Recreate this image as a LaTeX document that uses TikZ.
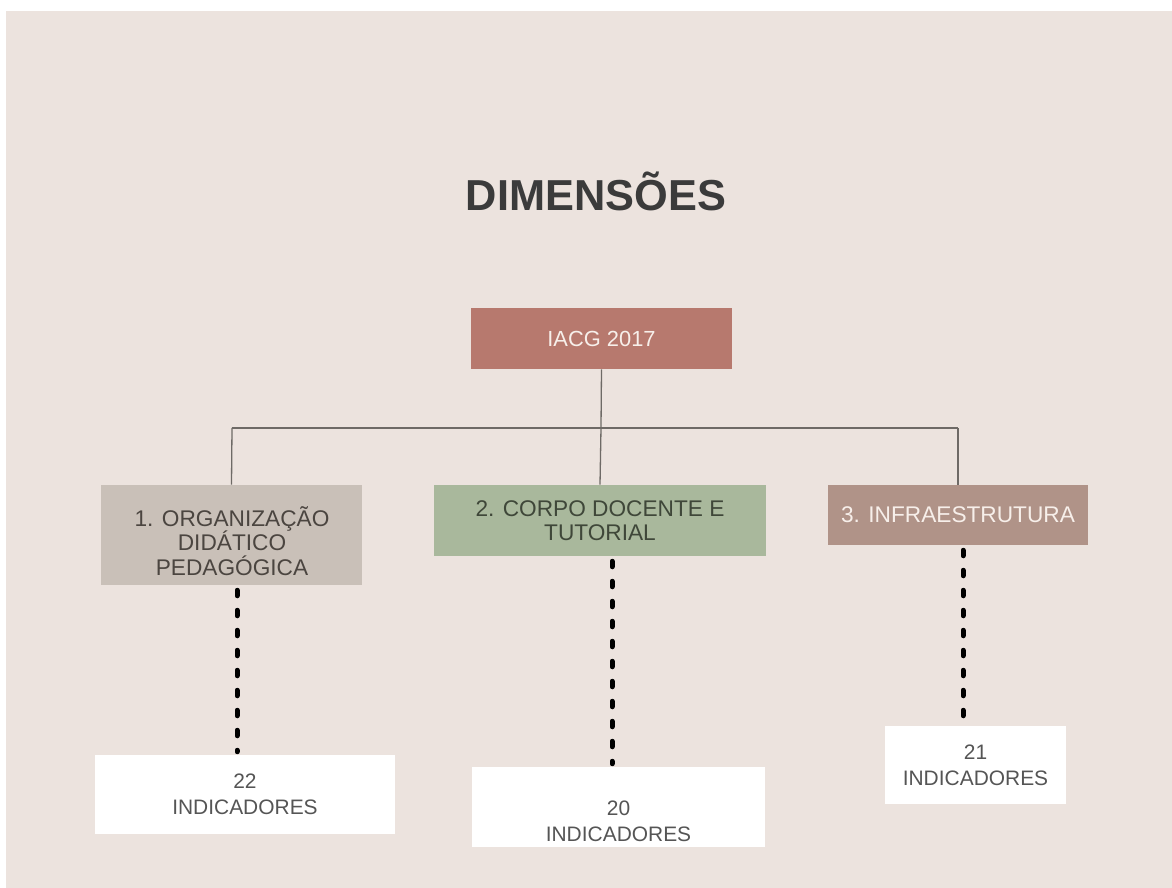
\documentclass[tikz,border=0pt]{standalone}
\usepackage{fontspec}
\setmainfont{Liberation Sans}
\newdimen\px \px=0.75pt
\definecolor{bgc}{HTML}{ECE3DE}
\definecolor{titlec}{HTML}{3B3B3B}
\definecolor{iacgc}{HTML}{B7796E}
\definecolor{onec}{HTML}{C9C0B8}
\definecolor{twoc}{HTML}{A9B89C}
\definecolor{threec}{HTML}{B09388}
\definecolor{linec}{HTML}{6E6A66}
\definecolor{txtone}{HTML}{4B4540}
\definecolor{txttwo}{HTML}{3F4739}
\definecolor{txtind}{HTML}{555555}
\definecolor{txtlight}{HTML}{F7EFEA}
\tikzset{
  boxbase/.style={rectangle, inner sep=0pt, align=center, draw=none},
  dimbox/.style={boxbase, font=\fontsize{17}{18.4}\selectfont},
  indbox/.style={boxbase, fill=white, text=txtind, font=\fontsize{15.7}{19.5}\selectfont},
  indtext/.style={boxbase, text=txtind, font=\fontsize{15.7}{19.5}\selectfont},
  tree/.style={draw=linec, line width=1.3\px},
  dots/.style={draw=black, line width=5\px, line cap=round, dash pattern=on 5.5\px off 14.5\px}
}
\begin{document}
\begin{tikzpicture}[x=0.75pt,y=-0.75pt]
\useasboundingbox (0,0) rectangle (1172,888);
\fill[white] (0,0) rectangle (1172,888);
\fill[bgc] (6,11) rectangle (1172,888);

\node[font=\bfseries\fontsize{32.5}{39}\selectfont, text=titlec] (title) at (596,191) {DIMENSÕES};

\node[boxbase, fill=iacgc, text=txtlight, minimum width=261\px, minimum height=61\px,
      font=\fontsize{16.4}{19}\selectfont] (iacg) at (601.5,338.5) {IACG 2017};

\node[dimbox, fill=onec, minimum width=261\px, minimum height=100\px] (b1) at (231.5,535) {};
\node[dimbox, text=txtone] (b1t) at (232,541) {1. ORGANIZAÇÃO\\DIDÁTICO\\PEDAGÓGICA};
\node[dimbox, fill=twoc, text=txttwo, minimum width=332\px, minimum height=71\px] (b2) at (600,520.5)
  {2. CORPO DOCENTE E\\TUTORIAL};
\node[dimbox, fill=threec, text=txtlight, minimum width=260\px, minimum height=60\px] (b3) at (958,515)
  {3. INFRAESTRUTURA};

\node[indbox, minimum width=300\px, minimum height=79\px] (w1) at (245,794.5) {22\\INDICADORES};
\node[indbox, minimum width=293\px, minimum height=80\px] (w2) at (618.5,807) {};
\node[indtext] (w2t) at (618.5,821) {20\\INDICADORES};
\node[indbox, minimum width=181\px, minimum height=78\px] (w3) at (975.5,765) {21\\INDICADORES};

\coordinate (h1) at (232,428);
\coordinate (hm) at (601,428);
\coordinate (h3) at (958,428);
\draw[tree] (iacg.south) -- (hm);
\draw[tree] (h1) -- (h3);
\draw[tree] (h1) -- (b1.north);
\draw[tree] (hm) -- (b2.north);
\draw[tree] (h3) -- (b3.north);

\draw[dots] ([xshift=5.5\px,yshift=-5\px]b1.south) -- ([xshift=-8\px,yshift=3\px]w1.north);
\draw[dots] ([xshift=12\px,yshift=-5\px]b2.south) -- ([xshift=-6.5\px,yshift=3\px]w2.north);
\draw[dots] ([xshift=5\px,yshift=-5\px]b3.south) -- ([xshift=-12.5\px,yshift=3\px]w3.north);
\end{tikzpicture}
\end{document}
